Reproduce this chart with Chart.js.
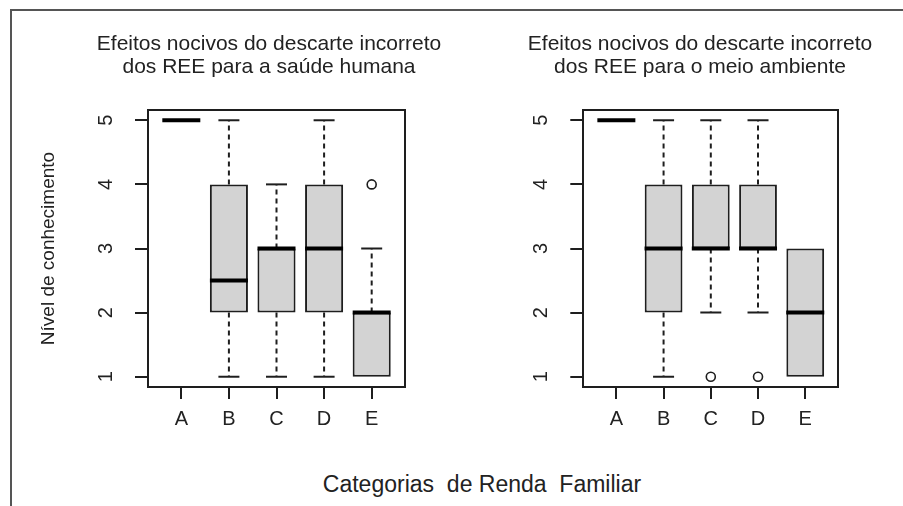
<!DOCTYPE html>
<html>
<head>
<meta charset="utf-8">
<script src="https://cdn.jsdelivr.net/npm/chart.js@4.4.1/dist/chart.umd.min.js"></script>
<style>
  html, body { margin: 0; padding: 0; background: #fff; }
  body { width: 903px; height: 506px; position: relative; overflow: hidden; font-family: "Liberation Sans", Arial, sans-serif; }
  #frameTop { position: absolute; left: 10px; top: 9px; width: 893px; height: 0; border-top: 2px solid #555; }
  #frameLeft { position: absolute; left: 10px; top: 9px; width: 0; height: 497px; border-left: 2px solid #555; }
  canvas { position: absolute; top: 0; }
  #leftChart { left: 0; }
  #rightChart { left: 497px; }
  #xTitle { position: absolute; left: 182px; top: 471px; width: 600px; text-align: center; font-size: 23px; line-height: 27px; color: #222; white-space: pre; }
</style>
</head>
<body>
<div id="frameTop"></div>
<div id="frameLeft"></div>
<canvas id="leftChart" width="538" height="440"></canvas>
<canvas id="rightChart" width="406" height="440"></canvas>
<div id="xTitle">Categorias  de Renda  Familiar</div>
<script>
const categories = ['A', 'B', 'C', 'D', 'E'];
const yTicks = [1, 2, 3, 4, 5];

// saude humana
const saudeTitle = ['Efeitos nocivos do descarte incorreto', 'dos REE para a saúde humana'];
const saudeMin = [5, 1, 1, 1, 1];
const saudeQ1 = [5, 2, 2, 2, 1];
const saudeMed = [5, 2.5, 3, 3, 2];
const saudeQ3 = [5, 4, 3, 4, 2];
const saudeMax = [5, 5, 4, 5, 3];
const saudeOut = [[], [], [], [], [4]];

// meio ambiente
const ambTitle = ['Efeitos nocivos do descarte incorreto', 'dos REE para o meio ambiente'];
const ambMin = [5, 1, 2, 2, 1];
const ambQ1 = [5, 2, 3, 3, 1];
const ambMed = [5, 3, 3, 3, 2];
const ambQ3 = [5, 4, 4, 4, 3];
const ambMax = [5, 5, 5, 5, 3];
const ambOut = [[], [], [1], [1], []];

const ink = '#1e1e1e';
const lw = 2;
Chart.defaults.font.family = "'Liberation Sans', Arial, sans-serif";

function buildDatasets(min, q1, med, q3, max, out) {
    const sets = [];

    sets.push({
        type: 'scatter',
        order: 0,
        data: categories.map((c, i) => ({ x: i + 1, y: med[i] })),
        pointStyle: 'line',
        pointRadius: 19,
        borderWidth: 4,
        borderColor: '#000'
    });

    const outliers = [];
    out.forEach((vals, i) => vals.forEach(v => outliers.push({ x: i + 1, y: v })));
    sets.push({
        type: 'scatter',
        order: 1,
        data: outliers,
        pointStyle: 'circle',
        pointRadius: 4.5,
        borderWidth: 1.6,
        borderColor: ink,
        backgroundColor: '#fff'
    });

    const caps = [];
    categories.forEach((c, i) => {
        if (max[i] > q3[i]) caps.push({ x: i + 1, y: max[i] });
        if (min[i] < q1[i]) caps.push({ x: i + 1, y: min[i] });
    });
    sets.push({
        type: 'scatter',
        order: 2,
        data: caps,
        pointStyle: 'line',
        pointRadius: 10.5,
        borderWidth: lw,
        borderColor: ink
    });

    categories.forEach((c, i) => {
        const segs = [];
        if (max[i] > q3[i]) segs.push([q3[i], max[i]]);
        if (min[i] < q1[i]) segs.push([q1[i], min[i]]);
        segs.forEach(s => {
            sets.push({
                type: 'line',
                order: 3,
                data: [{ x: i + 1, y: s[0] }, { x: i + 1, y: s[1] }],
                borderColor: ink,
                borderWidth: lw,
                borderDash: [5, 4],
                pointRadius: 0,
                fill: false
            });
        });
    });

    sets.push({
        type: 'bar',
        order: 4,
        data: categories.map((c, i) => ({ x: i + 1, y: [q1[i], q3[i]] })),
        backgroundColor: '#d3d3d3',
        borderColor: ink,
        borderWidth: lw,
        borderSkipped: false,
        barPercentage: 0.8,
        categoryPercentage: 1
    });

    return sets;
}

function makeChart(id, title, datasets, yTitle, yWidth, spaceWidth) {
    const ctx = document.getElementById(id).getContext('2d');
    new Chart(ctx, {
        type: 'bar',
        data: { datasets: datasets },
        options: {
            responsive: false,
            animation: false,
            events: [],
            layout: { padding: 0 },
            plugins: {
                legend: { display: false },
                tooltip: { enabled: false },
                title: {
                    display: true,
                    text: title,
                    color: '#222',
                    font: { size: 21, weight: 'normal', lineHeight: 1.1 },
                    padding: { top: 32.5, bottom: 31.3 }
                }
            },
            scales: {
                x: {
                    type: 'linear',
                    position: 'bottom',
                    min: 0.3,
                    max: 5.7,
                    offset: false,
                    afterBuildTicks: s => { s.ticks = categories.map((c, i) => ({ value: i + 1 })); },
                    afterFit: s => { s.height = 53; },
                    ticks: {
                        callback: v => categories[v - 1],
                        color: '#222',
                        font: { size: 20 },
                        padding: 8,
                        maxRotation: 0,
                        autoSkip: false
                    },
                    grid: { drawOnChartArea: false, tickLength: 12, color: ink, lineWidth: lw, offset: false },
                    border: { display: true, color: ink, width: lw }
                },
                xTop: {
                    type: 'linear',
                    position: 'top',
                    min: 0.3,
                    max: 5.7,
                    ticks: { display: false },
                    grid: { display: false, drawTicks: false },
                    border: { display: true, color: ink, width: lw },
                    afterFit: s => { s.height = 0; }
                },
                y: {
                    type: 'linear',
                    position: 'left',
                    min: 0.84,
                    max: 5.16,
                    beginAtZero: false,
                    afterBuildTicks: s => { s.ticks = yTicks.map(v => ({ value: v })); },
                    afterFit: s => { s.width = yWidth; },
                    ticks: {
                        callback: v => String(v),
                        color: '#222',
                        font: { size: 20 },
                        minRotation: 90,
                        maxRotation: 90,
                        crossAlign: 'center',
                        padding: 23
                    },
                    grid: { drawOnChartArea: false, tickLength: 13, color: ink, lineWidth: lw },
                    border: { display: true, color: ink, width: lw },
                    title: {
                        display: !!yTitle,
                        text: yTitle || '',
                        color: '#222',
                        font: { size: 19 },
                        padding: { top: 37, bottom: 0 }
                    }
                },
                ySpace: {
                    type: 'linear',
                    position: 'right',
                    min: 0.84,
                    max: 5.16,
                    ticks: { display: false },
                    grid: { display: false, drawTicks: false },
                    border: { display: true, color: ink, width: lw },
                    afterFit: s => { s.width = spaceWidth; }
                }
            }
        }
    });
}

makeChart('leftChart', saudeTitle,
    buildDatasets(saudeMin, saudeQ1, saudeMed, saudeQ3, saudeMax, saudeOut),
    'Nível de conhecimento', 148, 133);
makeChart('rightChart', ambTitle,
    buildDatasets(ambMin, ambQ1, ambMed, ambQ3, ambMax, ambOut),
    null, 86.3, 64.7);
</script>
</body>
</html>
